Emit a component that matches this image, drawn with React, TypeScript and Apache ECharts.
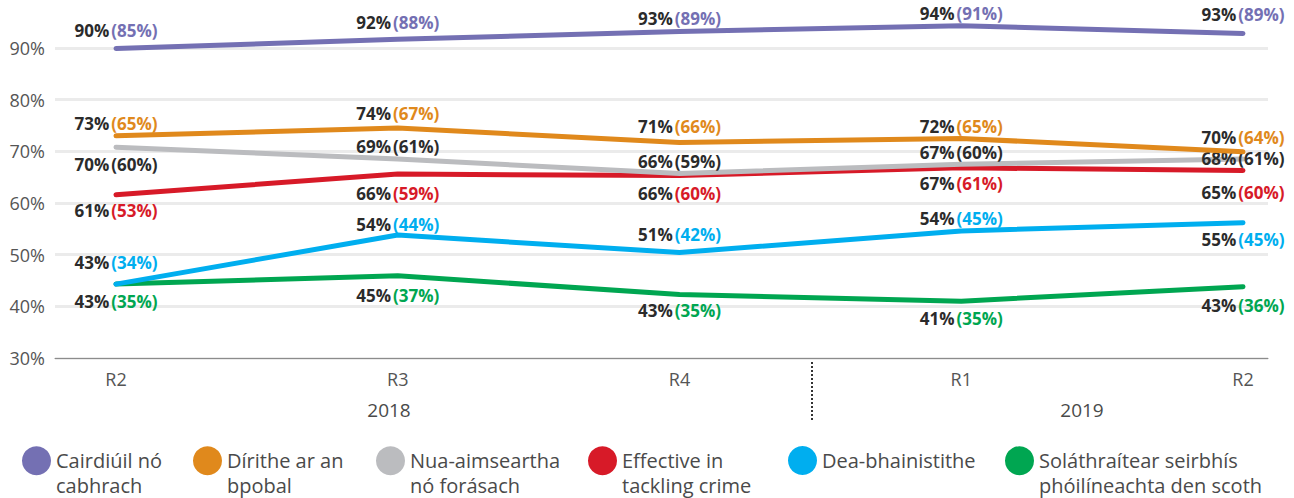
import React, { useEffect, useRef } from 'react';
import * as echarts from 'echarts';

const categories = ['R2', 'R3', 'R4', 'R1', 'R2'];
const yearLabels = ['2018', '2019'];

const seriesNames = [
  'Cairdiúil nó cabhrach',
  'Dírithe ar an bpobal',
  'Nua-aimseartha nó forásach',
  'Effective in tackling crime',
  'Dea-bhainistithe',
  'Soláthraítear seirbhís phóilíneachta den scoth',
];
const legendLines = [
  'Cairdiúil nó\ncabhrach',
  'Dírithe ar an\nbpobal',
  'Nua-aimseartha\nnó forásach',
  'Effective in\ntackling crime',
  'Dea-bhainistithe',
  'Soláthraítear seirbhís\nphóilíneachta den scoth',
];

// plotted line values
const friendlyLine = [89.9, 91.7, 93.2, 94.3, 92.8];
const communityLine = [73.0, 74.5, 71.7, 72.5, 69.9];
const modernLine = [70.8, 68.5, 65.7, 67.5, 68.5];
const crimeLine = [61.6, 65.6, 65.3, 66.8, 66.3];
const managedLine = [44.3, 53.8, 50.4, 54.6, 56.2];
const excellentLine = [44.3, 45.9, 42.3, 41.0, 43.8];

// printed values
const friendlyMain = [90, 92, 93, 94, 93];
const friendlyPrev = [85, 88, 89, 91, 89];
const communityMain = [73, 74, 71, 72, 70];
const communityPrev = [65, 67, 66, 65, 64];
const modernMain = [70, 69, 66, 67, 68];
const modernPrev = [60, 61, 59, 60, 61];
const crimeMain = [61, 66, 66, 67, 65];
const crimePrev = [53, 59, 60, 61, 60];
const managedMain = [43, 54, 51, 54, 55];
const managedPrev = [34, 44, 42, 45, 45];
const excellentMain = [43, 45, 43, 41, 43];
const excellentPrev = [35, 37, 35, 35, 36];

const lines = [friendlyLine, communityLine, modernLine, crimeLine, managedLine, excellentLine];
const mains = [friendlyMain, communityMain, modernMain, crimeMain, managedMain, excellentMain];
const prevs = [friendlyPrev, communityPrev, modernPrev, crimePrev, managedPrev, excellentPrev];

// styling
const colors = ['#7470b3', '#e0891c', '#bbbcbf', '#d71a28', '#00aeef', '#00a651'];
const prevColors = ['#7470b3', '#e0891c', '#2b2b2b', '#d71a28', '#00aeef', '#00a651'];
// vertical label offsets (px) relative to each point
const labelShift = [
  [-18.5, -17, -12.5, -12, -19],
  [-12, -15, -16, -12, -14.5],
  [17.5, -13, -12.5, -11.5, -1],
  [16, 19, 17.5, 16, 22.5],
  [-21.5, -11, -18.5, -12, 17],
  [17, 20, 16.5, 17.5, 18.5],
];
const legendLeft = [22, 193, 376, 588, 788, 1005];

const FONT = "'Open Sans', 'Noto Sans', sans-serif";

export default function App() {
  const ref = useRef<HTMLDivElement>(null);
  useEffect(() => {
    if (!ref.current) return;
    const chart = echarts.init(ref.current, undefined, { renderer: 'svg' });

    const series = seriesNames.map((name, si) => ({
      type: 'line',
      name,
      xAxisIndex: 1,
      yAxisIndex: 1,
      clip: false,
      z: 10 - si,
      symbol: 'circle',
      symbolSize: 4,
      showSymbol: true,
      itemStyle: { color: 'rgba(0,0,0,0)', borderWidth: 0 },
      lineStyle: { color: colors[si], width: 5, cap: 'round', join: 'round' },
      emphasis: { disabled: true },
      data: lines[si].map((v, i) => ({
        value: v,
        label: {
          show: true,
          position: 'inside',
          offset: [0, labelShift[si][i]],
          formatter: `{m|${mains[si][i]}%}{s| }{p|(${prevs[si][i]}%)}`,
          rich: {
            m: { color: '#2b2b2b', fontWeight: 'bold', fontSize: 17, fontFamily: FONT },
            s: { fontSize: 8, fontFamily: FONT },
            p: { color: prevColors[si], fontWeight: 'bold', fontSize: 17, fontFamily: FONT },
          },
        },
      })),
    }));

    const legends = seriesNames.map((name, si) => {
      const twoLine = legendLines[si].includes('\n');
      return {
        left: legendLeft[si],
        top: twoLine ? 424 : 446,
        padding: 0,
        orient: 'horizontal',
        icon: 'circle',
        itemWidth: 29,
        itemHeight: 29,
        itemGap: 9,
        selectedMode: false,
        data: [{ name, itemStyle: { color: colors[si] } }],
        formatter: () => (twoLine ? ' \n' + legendLines[si] : legendLines[si]),
        textStyle: {
          fontSize: 20,
          lineHeight: 24.5,
          color: '#4a4a4a',
          fontFamily: FONT,
        },
      };
    });

    chart.setOption({
      animation: false,
      backgroundColor: '#ffffff',
      textStyle: { fontFamily: FONT },
      grid: [
        { left: 55, right: 26, top: 48, bottom: 140 },
        { left: 116, right: 51, top: 48, bottom: 140 },
      ],
      xAxis: [
        {
          type: 'value',
          gridIndex: 0,
          min: 0,
          max: 1,
          axisLine: { show: true, onZero: false, lineStyle: { color: '#8c8c8c', width: 1 } },
          axisTick: { show: false },
          axisLabel: { show: false },
          splitLine: { show: false },
        },
        {
          type: 'category',
          gridIndex: 1,
          data: categories,
          boundaryGap: false,
          axisLine: { show: false },
          axisTick: { show: false },
          splitLine: { show: false },
          axisLabel: { fontSize: 18, color: '#555555', margin: 12, fontFamily: FONT },
        },
      ],
      yAxis: [
        {
          type: 'value',
          gridIndex: 0,
          min: 30,
          max: 90,
          interval: 10,
          axisLine: { show: false },
          axisTick: { show: false },
          axisLabel: { formatter: '{value}%', fontSize: 18, color: '#555555', margin: 10, fontFamily: FONT },
          splitLine: { show: true, lineStyle: { color: '#ebebeb', width: 3 } },
        },
        {
          type: 'value',
          gridIndex: 1,
          min: 30,
          max: 90,
          interval: 10,
          show: false,
          splitLine: { show: false },
        },
      ],
      legend: legends,
      graphic: [
        {
          type: 'text',
          x: 389,
          y: 410,
          style: { text: yearLabels[0], fontSize: 19, fill: '#4a4a4a', fontFamily: FONT, align: 'center', verticalAlign: 'middle' },
        },
        {
          type: 'text',
          x: 1082,
          y: 410,
          style: { text: yearLabels[1], fontSize: 19, fill: '#4a4a4a', fontFamily: FONT, align: 'center', verticalAlign: 'middle' },
        },
        {
          type: 'line',
          shape: { x1: 812, y1: 362, x2: 812, y2: 421 },
          style: { stroke: '#333333', lineWidth: 2, lineDash: [2, 2] },
        },
      ],
      series,
    });

    return () => chart.dispose();
  }, []);

  return (
    <div
      ref={ref}
      style={{ position: 'fixed', left: 0, top: 0, width: 1294, height: 498, background: '#fff' }}
    />
  );
}
